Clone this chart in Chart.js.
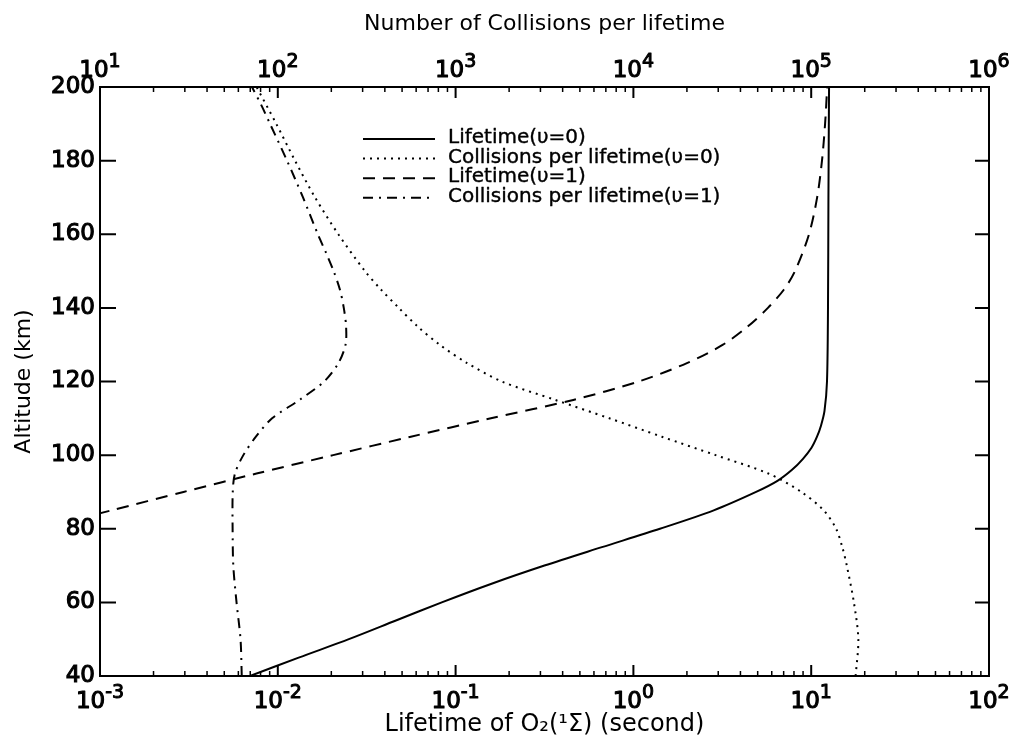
<!DOCTYPE html>
<html>
<head>
<meta charset="utf-8">
<script src="https://cdn.jsdelivr.net/npm/chart.js@4.4.0/dist/chart.umd.min.js"></script>
<style>
  html, body { margin: 0; padding: 0; background: #fff; }
  #wrap { width: 1013px; height: 738px; }
</style>
</head>
<body>
<div id="wrap"><canvas id="chart" width="1013" height="738"></canvas></div>
<script>
// O2(1Σ) lifetime and collisions per lifetime vs altitude

// v=0 lifetime (s)
const altLife0 = [40, 45, 50, 55, 60, 65, 70, 75, 80, 85, 90, 93, 96, 99, 102, 105, 108, 112, 120, 140, 170, 200];
const lifeV0   = [0.00698, 0.0131, 0.0251, 0.0458, 0.0836, 0.158, 0.316, 0.665, 1.41, 2.83, 4.90, 6.46, 7.80, 8.99, 10.04, 10.78, 11.35, 11.88, 12.27, 12.43, 12.5, 12.6];

// v=0 collisions per lifetime
const altColl0 = [40, 50, 60, 70, 75, 80, 85, 90, 95, 100, 105, 110, 115, 120, 125, 130, 135, 140, 145, 150, 160, 170, 180, 190, 200];
const collV0   = [177800, 184100, 173800, 158500, 149600, 138000, 117500, 87900, 57400, 29000, 14450, 7330, 3630, 1820, 1161, 813, 610, 479, 380, 309, 219, 162, 125, 98, 76];

// v=1 lifetime (s)
const altLife1 = [80, 85, 90, 95, 100, 105, 110, 115, 120, 125, 130, 135, 140, 145, 150, 160, 170, 180, 190, 200];
const lifeV1   = [0.000457, 0.00116, 0.00295, 0.00759, 0.0205, 0.056, 0.158, 0.459, 1.07, 2.0, 3.19, 4.41, 5.71, 7.03, 8.11, 9.72, 10.8, 11.5, 11.97, 12.3];

// v=1 collisions per lifetime
const altColl1 = [40, 50, 60, 70, 80, 90, 95, 100, 105, 110, 115, 120, 125, 130, 135, 140, 145, 150, 155, 160, 170, 180, 190, 195, 200];
const collV1   = [62.7, 61.7, 58.6, 56.2, 55.7, 55.8, 57.4, 64.0, 75.3, 92.9, 132.4, 182.4, 219.3, 240.4, 242.1, 235.0, 223.4, 206.0, 186.6, 168.0, 138.6, 112.7, 90.4, 80.9, 71.6];

// axis ticks
const altTicks    = [40, 60, 80, 100, 120, 140, 160, 180, 200];
const lifeDecades = [-3, -2, -1, 0, 1, 2];
const collDecades = [1, 2, 3, 4, 5, 6];

const FONT = '"DejaVu Sans", "Liberation Sans", sans-serif';

function pts(alts, vals) {
  return alts.map((a, i) => ({ x: vals[i], y: a }));
}

function curve(label, alts, vals, xAxisID, dash) {
  return {
    label,
    data: pts(alts, vals),
    xAxisID,
    yAxisID: 'y',
    borderColor: '#000',
    borderWidth: 2,
    borderDash: dash,
    pointRadius: 0,
    fill: false,
    tension: 0.3,
  };
}

// filled text with a thin outline so it reads a little heavier
function heavyText(ctx, str, x, y, w) {
  ctx.fillText(str, x, y);
  ctx.lineWidth = w;
  ctx.strokeText(str, x, y);
}

// 10^n label with a raised exponent
function drawPow(ctx, x, baseY, exp) {
  ctx.font = '23px ' + FONT;
  const wb = ctx.measureText('10').width;
  ctx.font = '19px ' + FONT;
  const we = ctx.measureText(exp).width;
  const x0 = x - (wb + we) / 2;
  ctx.font = '23px ' + FONT;
  heavyText(ctx, '10', x0, baseY, 1.1);
  ctx.font = '19px ' + FONT;
  heavyText(ctx, exp, x0 + wb, baseY - 10, 1.0);
}

// inward tick marks on all four sides, log labels, and the line legend
const frameTicks = {
  id: 'frameTicks',
  afterDraw(chart) {
    const { ctx, chartArea: a, scales } = chart;
    const xs = scales.x, xt = scales.x2, ys = scales.y;
    ctx.save();
    ctx.strokeStyle = '#000';
    ctx.fillStyle = '#000';
    ctx.lineJoin = 'round';

    // major ticks
    ctx.lineWidth = 2;
    ctx.beginPath();
    lifeDecades.forEach(e => {
      const px = xs.getPixelForValue(Math.pow(10, e));
      ctx.moveTo(px, a.bottom); ctx.lineTo(px, a.bottom - 11);
    });
    collDecades.forEach(e => {
      const px = xt.getPixelForValue(Math.pow(10, e));
      ctx.moveTo(px, a.top); ctx.lineTo(px, a.top + 11);
    });
    altTicks.forEach(v => {
      const py = ys.getPixelForValue(v);
      ctx.moveTo(a.left, py); ctx.lineTo(a.left + 16, py);
      ctx.moveTo(a.right, py); ctx.lineTo(a.right - 14, py);
    });
    ctx.stroke();

    // minor ticks
    ctx.lineWidth = 1.5;
    ctx.beginPath();
    lifeDecades.slice(0, -1).forEach(e => {
      for (let m = 2; m <= 9; m++) {
        const px = xs.getPixelForValue(m * Math.pow(10, e));
        ctx.moveTo(px, a.bottom); ctx.lineTo(px, a.bottom - 5);
      }
    });
    collDecades.slice(0, -1).forEach(e => {
      for (let m = 2; m <= 9; m++) {
        const px = xt.getPixelForValue(m * Math.pow(10, e));
        ctx.moveTo(px, a.top); ctx.lineTo(px, a.top + 5);
      }
    });
    ctx.stroke();

    // decade labels
    ctx.textAlign = 'left';
    ctx.textBaseline = 'alphabetic';
    lifeDecades.forEach(e => drawPow(ctx, xs.getPixelForValue(Math.pow(10, e)), a.bottom + 32, String(e)));
    collDecades.forEach(e => drawPow(ctx, xt.getPixelForValue(Math.pow(10, e)), a.top - 10, String(e)));

    // legend
    ctx.font = '20px ' + FONT;
    chart.data.datasets.forEach((ds, i) => {
      const by = a.top + 56 + i * 19.6;
      ctx.lineWidth = 2;
      ctx.setLineDash(ds.borderDash || []);
      ctx.beginPath();
      ctx.moveTo(a.left + 263, by - 4);
      ctx.lineTo(a.left + 335, by - 4);
      ctx.stroke();
      ctx.setLineDash([]);
      heavyText(ctx, ds.label, a.left + 348, by, 0.4);
    });
    ctx.restore();
  }
};

const frameBorder = { display: true, width: 2, color: '#000' };

new Chart(document.getElementById('chart'), {
  type: 'line',
  data: {
    datasets: [
      curve('Lifetime(υ=0)', altLife0, lifeV0, 'x', []),
      curve('Collisions per lifetime(υ=0)', altColl0, collV0, 'x2', [2, 5]),
      curve('Lifetime(υ=1)', altLife1, lifeV1, 'x', [12, 8]),
      curve('Collisions per lifetime(υ=1)', altColl1, collV1, 'x2', [10, 6, 2, 6]),
    ]
  },
  options: {
    responsive: false,
    animation: false,
    layout: { padding: 0 },
    plugins: { legend: { display: false }, tooltip: { enabled: false } },
    scales: {
      x: {
        type: 'logarithmic',
        position: 'bottom',
        min: 1e-3,
        max: 1e2,
        grid: { display: false, drawTicks: false },
        border: frameBorder,
        ticks: { display: false },
        title: {
          display: true,
          text: 'Lifetime of O₂(¹Σ) (second)',
          color: '#000',
          font: { family: FONT, size: 24, lineHeight: 1.1 },
          padding: { top: 0, bottom: 0 }
        },
        afterFit: s => { s.height = 62; }
      },
      x2: {
        type: 'logarithmic',
        position: 'top',
        min: 10,
        max: 1e6,
        grid: { display: false, drawTicks: false },
        border: frameBorder,
        ticks: { display: false },
        title: {
          display: true,
          text: 'Number of Collisions per lifetime',
          color: '#000',
          font: { family: FONT, size: 22 },
          padding: { top: 11, bottom: 0 }
        },
        afterFit: s => { s.height = 87; }
      },
      y: {
        type: 'linear',
        position: 'left',
        min: 40,
        max: 200,
        grid: { display: false, drawTicks: false },
        border: frameBorder,
        ticks: {
          stepSize: 20,
          padding: 5,
          color: '#000',
          textStrokeColor: '#000',
          textStrokeWidth: 1.1,
          font: { family: FONT, size: 23 }
        },
        title: {
          display: true,
          text: 'Altitude (km)',
          color: '#000',
          font: { family: FONT, size: 22 },
          padding: { top: 11, bottom: 0 }
        },
        afterFit: s => { s.width = 100; }
      },
      y2: {
        type: 'linear',
        position: 'right',
        min: 40,
        max: 200,
        grid: { display: false, drawTicks: false },
        border: frameBorder,
        ticks: { display: false },
        afterFit: s => { s.width = 24; }
      }
    }
  },
  plugins: [frameTicks]
});
</script>
</body>
</html>
